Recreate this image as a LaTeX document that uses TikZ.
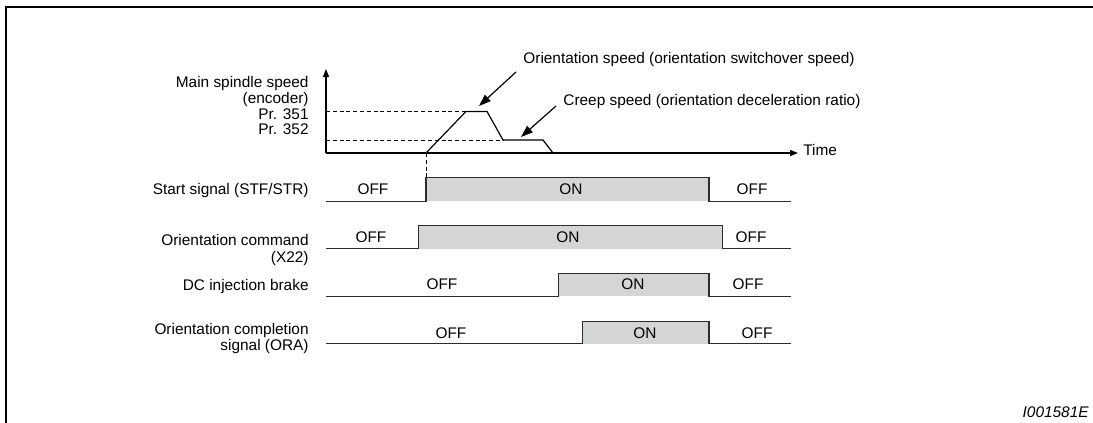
\documentclass[tikz,border=0pt]{standalone}
\usepackage{fontspec}
\setmainfont{Liberation Sans}
\usetikzlibrary{arrows.meta}
\definecolor{sgrey}{RGB}{212,213,215}
\definecolor{sline}{RGB}{45,45,45}

\begin{document}
\begin{tikzpicture}[x=0.5pt,y=-0.5pt,
  every node/.style={font=\fontsize{7.7}{8.6}\selectfont,inner sep=0pt},
  lbl/.style={anchor=base east},
  mlbl/.style={anchor=north east,align=right},
  ann/.style={anchor=base west},
  lvl/.style={anchor=base},
  axis/.style={-{Triangle[length=4pt,width=3pt]},line width=0.6pt},
  pointer/.style={-{Triangle[length=6pt,width=4.2pt]},line width=0.6pt},
  level/.style={dash pattern=on 2pt off 1.4pt,line width=0.45pt},
  wave/.style={draw=sline,line width=0.7pt},
  onfill/.style={fill=sgrey}
]
\useasboundingbox (0,0) rectangle (1093,423);
\draw[line width=1.1pt] (6,423) -- (6,7) -- (1093,7);

% speed graph
\coordinate (o) at (326,153);
\coordinate (ytop) at (326,69);
\coordinate (xend) at (798,153);
\coordinate (p351) at (326,111.5);
\coordinate (p352) at (326,140);
\coordinate (rise) at (426,153);
\coordinate (peakA) at (466,111.5);
\coordinate (peakB) at (487,111.5);
\coordinate (creepA) at (503,140);
\coordinate (creepB) at (543,140);
\coordinate (stop) at (553,153);
\draw[axis] (o) -- (ytop);
\draw[axis] (o) -- (xend);
\draw[level] (p351) -- (peakA);
\draw[level] (p352) -- (creepA);
\draw[line width=0.6pt] (rise) -- (peakA) -- (peakB) -- (creepA) -- (creepB) -- (stop);

\node[mlbl] (spd) at (309,76.2) {Main spindle speed\\[-0.75pt](encoder)\\[-0.75pt]Pr. 351\\[-0.75pt]Pr. 352};
\node[ann] (time) at (803,155.5) {Time};
\node[ann] (orspd) at (523,63.8) {Orientation speed (orientation switchover speed)};
\node[ann] (creep) at (563,105.5) {Creep speed (orientation deceleration ratio)};
\coordinate (orfrom) at (516,72);
\coordinate (orto) at (479,106);
\coordinate (crfrom) at (556,106);
\coordinate (crto) at (521,137);
\draw[pointer] (orfrom) -- (orto);
\draw[pointer] (crfrom) -- (crto);

% signals
\coordinate (stfhi) at (426,177.7);
\draw[level] (rise) -- (stfhi);
\fill[onfill] (426,177.7) rectangle (709,201.3);
\draw[wave] (326,201.3) -- (426,201.3) -- (stfhi) -- (709,177.7) -- (709,201.3) -- (791,201.3);
\fill[onfill] (418.3,225.7) rectangle (722.7,248.7);
\draw[wave] (326,248.7) -- (418.3,248.7) -- (418.3,225.7) -- (722.7,225.7) -- (722.7,248.7) -- (791,248.7);
\fill[onfill] (558.3,273.3) rectangle (709,296.3);
\draw[wave] (326,296.3) -- (558.3,296.3) -- (558.3,273.3) -- (709,273.3) -- (709,296.3) -- (791,296.3);
\fill[onfill] (582.7,321.3) rectangle (709,343.7);
\draw[wave] (326,343.7) -- (582.7,343.7) -- (582.7,321.3) -- (709,321.3) -- (709,343.7) -- (791,343.7);

\node[lbl] (stf) at (309,194.5) {Start signal (STF/STR)};
\node[mlbl] (x22) at (309,234.3) {Orientation command\\[-0.2pt](X22)};
\node[lbl] (dcb) at (309,290.5) {DC injection brake};
\node[mlbl] (ora) at (309,322.6) {Orientation completion\\[-0.2pt]signal (ORA)};

\node[lvl] (stfoff) at (373,194) {OFF};
\node[lvl] (stfon) at (571,194) {ON};
\node[lvl] (stfoff2) at (752,194) {OFF};
\node[lvl] (x22off) at (371,242.5) {OFF};
\node[lvl] (x22on) at (568,242.5) {ON};
\node[lvl] (x22off2) at (751,242.5) {OFF};
\node[lvl] (dcboff) at (442,289) {OFF};
\node[lvl] (dcbon) at (633,289) {ON};
\node[lvl] (dcboff2) at (748,289) {OFF};
\node[lvl] (oraoff) at (451,338.5) {OFF};
\node[lvl] (oraon) at (645,338.5) {ON};
\node[lvl] (oraoff2) at (757,338.5) {OFF};

\node[anchor=base east,font=\fontsize{7.7}{8.6}\selectfont\itshape] (code) at (1089,417.5) {I001581E};
\end{tikzpicture}
\end{document}
